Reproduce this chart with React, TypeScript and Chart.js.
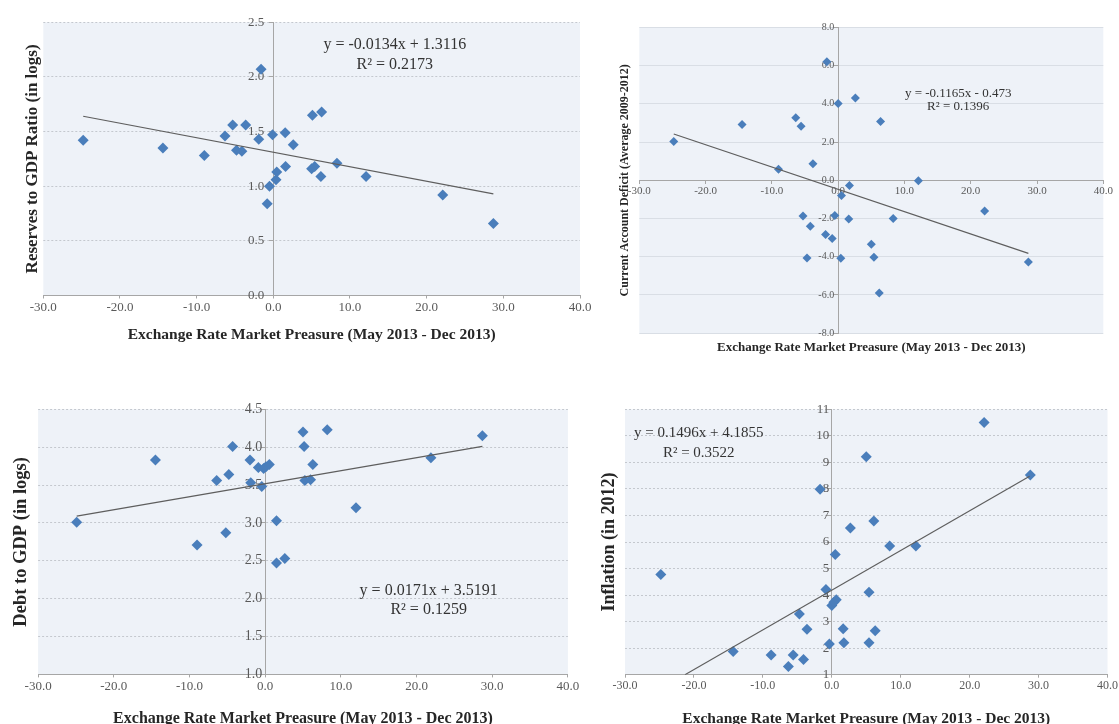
import React, { useEffect, useRef } from 'react';
import { Chart, registerables } from 'chart.js';

Chart.register(...registerables);

const FONT = "'Liberation Serif', 'Times New Roman', serif";

// ---------------- data ----------------
const xTitleText = 'Exchange Rate Market Preasure (May 2013 - Dec 2013)';
const xMin = -30;
const xMax = 40;
const xStep = 10;

// Panel 1: Reserves to GDP ratio
const reservesX = [-24.8, -14.4, -9.0, -6.3, -5.3, -4.8, -4.1, -3.6, -1.9, -1.6, -0.1, -0.8, -0.5, 0.35, 0.45, 1.55, 1.6, 2.6, 5.1, 6.3, 5.0, 5.4, 6.2, 8.3, 12.1, 22.1, 28.7];
const reservesY = [1.42, 1.35, 1.28, 1.46, 1.56, 1.33, 1.32, 1.56, 1.43, 2.07, 1.47, 0.84, 1.0, 1.06, 1.13, 1.49, 1.18, 1.38, 1.65, 1.68, 1.16, 1.18, 1.09, 1.21, 1.09, 0.92, 0.66];
const reservesTrendX = [-24.8, 28.7];
const reservesTrendY = [1.64, 0.93];
const reservesEq = ['y = -0.0134x + 1.3116', 'R\u00B2 = 0.2173'];

// Panel 2: Current account deficit
const caX = [-24.8, -14.5, -9.0, -6.4, -5.6, -3.8, -5.3, -4.2, -4.7, -1.9, -0.9, -0.5, -1.7, 0.0, 0.4, 0.5, 1.7, 1.6, 2.6, 6.4, 5.0, 5.4, 6.2, 8.3, 12.1, 22.1, 28.7];
const caY = [2.03, 2.92, 0.58, 3.27, 2.83, 0.87, -1.87, -2.4, -4.06, -2.84, -3.05, -1.84, 6.2, 4.02, -4.08, -0.8, -0.27, -2.03, 4.31, 3.08, -3.34, -4.02, -5.9, -2.0, -0.03, -1.61, -4.28];
const caTrendX = [-24.8, 28.7];
const caTrendY = [2.42, -3.82];
const caEq = ['y = -0.1165x - 0.473', 'R\u00B2 = 0.1396'];

// Panel 3: Debt to GDP
const debtX = [-24.9, -14.5, -9.0, -6.4, -5.2, -4.8, -4.3, -2.0, -1.9, -0.9, -0.45, -0.2, 0.1, 0.55, 1.5, 1.5, 2.6, 5.0, 5.15, 5.25, 6.0, 6.3, 8.2, 12.0, 21.9, 28.7];
const debtY = [3.01, 3.83, 2.71, 3.56, 2.87, 3.64, 4.01, 3.83, 3.53, 3.73, 3.48, 3.72, 3.74, 3.77, 3.03, 2.47, 2.53, 4.2, 4.01, 3.56, 3.57, 3.77, 4.23, 3.2, 3.86, 4.15];
const debtTrendX = [-24.9, 28.7];
const debtTrendY = [3.09, 4.01];
const debtEq = ['y = 0.0171x + 3.5191', 'R\u00B2 = 0.1259'];

// Panel 4: Inflation
const inflX = [-24.8, -14.3, -8.8, -6.3, -5.6, -4.1, -4.7, -3.6, -1.7, -0.85, -0.35, 0.0, 0.3, 0.65, 0.5, 1.65, 1.75, 2.7, 5.0, 5.4, 5.4, 6.1, 6.3, 8.4, 12.2, 22.1, 28.8];
const inflY = [4.78, 1.87, 1.74, 1.31, 1.74, 1.57, 3.29, 2.71, 7.99, 4.21, 2.16, 3.61, 3.73, 3.82, 5.53, 2.73, 2.2, 6.53, 9.21, 4.11, 2.2, 6.79, 2.66, 5.85, 5.85, 10.5, 8.52];
const inflTrendX = [-21.3, 28.7];
const inflTrendY = [1.0, 8.48];
const inflEq = ['y = 0.1496x + 4.1855', 'R\u00B2 = 0.3522'];

// ---------------- panel configs ----------------
type Pad = { top: number; bottom: number };
type PanelCfg = {
  left: number; top: number; width: number; height: number;
  padding: { left: number; right: number; top: number; bottom: number };
  xs: number[]; ys: number[]; trendX: number[]; trendY: number[];
  yMin: number; yMax: number; yStep: number; yDecimals: number; yLabelGap: string;
  xAtZero: boolean;
  yTitle: string; yTitleSize: number; yTitlePad: Pad;
  xTitleSize: number; xTitlePad: Pad;
  xTickSize: number; yTickSize: number;
  radius: number;
  gridColor: string; gridDash: number[];
  eq: string[]; eqX: number; eqY: number[]; eqSize: number;
};

const panels: PanelCfg[] = [
  {
    left: 0, top: 0, width: 600, height: 360,
    padding: { left: 21.3, right: 20, top: 22.3, bottom: 13.7 },
    xs: reservesX, ys: reservesY, trendX: reservesTrendX, trendY: reservesTrendY,
    yMin: 0, yMax: 2.5, yStep: 0.5, yDecimals: 1, yLabelGap: '\u2002\u2009', xAtZero: false,
    yTitle: 'Reserves to GDP Ratio (in logs)', yTitleSize: 17, yTitlePad: { top: 1.6, bottom: 0 },
    xTitleSize: 15.5, xTitlePad: { top: 9.6, bottom: 2 },
    xTickSize: 13, yTickSize: 13, radius: 5.5,
    gridColor: '#c4c8ce', gridDash: [2, 2],
    eq: reservesEq, eqX: 15.85, eqY: [2.295, 2.11], eqSize: 16,
  },
  {
    left: 580, top: 0, width: 539, height: 370,
    padding: { left: 34.4, right: 15.7, top: 27.4, bottom: 12.2 },
    xs: caX, ys: caY, trendX: caTrendX, trendY: caTrendY,
    yMin: -8, yMax: 8, yStep: 2, yDecimals: 1, yLabelGap: '\u2009\u2009', xAtZero: true,
    yTitle: 'Current Account Deficit (Average 2009-2012)', yTitleSize: 12, yTitlePad: { top: 3.4, bottom: 7.1 },
    xTitleSize: 13, xTitlePad: { top: 7, bottom: 2 },
    xTickSize: 11, yTickSize: 10, radius: 4.5,
    gridColor: '#d9dee5', gridDash: [],
    eq: caEq, eqX: 18.1, eqY: [4.52, 3.84], eqSize: 13,
  },
  {
    left: 0, top: 368, width: 600, height: 360,
    padding: { left: 8.2, right: 32.1, top: 41.3, bottom: 0 },
    xs: debtX, ys: debtY, trendX: debtTrendX, trendY: debtTrendY,
    yMin: 1, yMax: 4.5, yStep: 0.5, yDecimals: 1, yLabelGap: '\u2009', xAtZero: false,
    yTitle: 'Debt to GDP (in logs)', yTitleSize: 18.5, yTitlePad: { top: 1.7, bottom: 6.0 },
    xTitleSize: 16, xTitlePad: { top: 13.8, bottom: 0 },
    xTickSize: 13, yTickSize: 14, radius: 5.5,
    gridColor: '#c4c8ce', gridDash: [2, 2],
    eq: debtEq, eqX: 21.6, eqY: [2.11, 1.85], eqSize: 16,
  },
  {
    left: 580, top: 368, width: 539, height: 360,
    padding: { left: 17.4, right: 10.8, top: 41.3, bottom: 0 },
    xs: inflX, ys: inflY, trendX: inflTrendX, trendY: inflTrendY,
    yMin: 1, yMax: 11, yStep: 1, yDecimals: 0, yLabelGap: '\u2009', xAtZero: false,
    yTitle: 'Inflation (in 2012)', yTitleSize: 18, yTitlePad: { top: 0.8, bottom: 5.2 },
    xTitleSize: 15.5, xTitlePad: { top: 15.3, bottom: 0 },
    xTickSize: 12, yTickSize: 13, radius: 5.5,
    gridColor: '#c4c8ce', gridDash: [2, 2],
    eq: inflEq, eqX: -19.3, eqY: [10.1, 9.35], eqSize: 15,
  },
];

// ---------------- plugins ----------------
const bgPlugin = {
  id: 'plotBg',
  beforeDraw(chart: any) {
    const { ctx, chartArea: a } = chart;
    ctx.save();
    ctx.fillStyle = '#eef2f8';
    ctx.fillRect(a.left, a.top, a.right - a.left, a.bottom - a.top);
    ctx.restore();
  },
};

const makeEqPlugin = (c: PanelCfg) => ({
  id: 'eqText',
  afterDatasetsDraw(chart: any) {
    const { ctx } = chart;
    const xs = chart.scales.x;
    const ys = chart.scales.y;
    ctx.save();
    ctx.fillStyle = '#333333';
    ctx.font = `${c.eqSize}px ${FONT}`;
    ctx.textAlign = 'center';
    ctx.textBaseline = 'middle';
    c.eq.forEach((t, i) => {
      ctx.fillText(t, xs.getPixelForValue(c.eqX), ys.getPixelForValue(c.eqY[i]));
    });
    ctx.restore();
  },
});

const AXIS = '#a6a6a6';
const TICK = '#595959';
const TITLE = '#262626';
const MARKER = '#4a7ebb';

function buildConfig(c: PanelCfg): any {
  const points = c.xs.map((x, i) => ({ x, y: c.ys[i] }));
  const trend = c.trendX.map((x, i) => ({ x, y: c.trendY[i] }));
  const fmtY = (v: any) => Number(v).toFixed(c.yDecimals) + c.yLabelGap;
  const scales: any = {
    x: {
      type: 'linear', axis: 'x', min: xMin, max: xMax,
      position: c.xAtZero ? { y: 0 } : 'bottom',
      ticks: {
        stepSize: xStep, autoSkip: false, maxRotation: 0, padding: 1,
        font: { family: FONT, size: c.xTickSize }, color: TICK,
        callback: (v: any) => Number(v).toFixed(1),
      },
      grid: { display: true, drawOnChartArea: false, drawTicks: true, tickLength: 3, color: AXIS, tickColor: AXIS },
      border: { display: true, color: AXIS, width: 1 },
      title: c.xAtZero
        ? { display: false }
        : { display: true, text: xTitleText, color: TITLE, font: { family: FONT, size: c.xTitleSize, weight: 'bold' }, padding: c.xTitlePad },
    },
    y: {
      type: 'linear', axis: 'y', min: c.yMin, max: c.yMax,
      position: { x: 0 },
      ticks: {
        stepSize: c.yStep, autoSkip: false, padding: 2,
        font: { family: FONT, size: c.yTickSize }, color: TICK,
        callback: fmtY,
      },
      grid: { display: true, drawOnChartArea: true, drawTicks: true, tickLength: 4, color: c.gridColor, tickColor: AXIS, lineWidth: 1 },
      border: { display: true, color: AXIS, width: 1, dash: c.gridDash },
    },
    yTitle: {
      type: 'linear', axis: 'y', position: 'left', min: c.yMin, max: c.yMax,
      ticks: { display: false },
      grid: { display: false, drawTicks: false, drawOnChartArea: false },
      border: { display: false },
      title: { display: true, text: c.yTitle, color: TITLE, font: { family: FONT, size: c.yTitleSize, weight: 'bold' }, padding: c.yTitlePad },
    },
  };
  if (c.xAtZero) {
    scales.xTitle = {
      type: 'linear', axis: 'x', position: 'bottom', min: xMin, max: xMax,
      ticks: { display: false },
      grid: { display: false, drawTicks: false, drawOnChartArea: false },
      border: { display: false },
      title: { display: true, text: xTitleText, color: TITLE, font: { family: FONT, size: c.xTitleSize, weight: 'bold' }, padding: c.xTitlePad },
    };
  }
  return {
    type: 'scatter',
    data: {
      datasets: [
        {
          type: 'line', data: trend, xAxisID: 'x', yAxisID: 'y',
          borderColor: '#5e5e5e', borderWidth: 1.2, pointRadius: 0, showLine: true, fill: false, order: 0,
        },
        {
          type: 'scatter', data: points, xAxisID: 'x', yAxisID: 'y',
          pointStyle: 'rectRot', pointRadius: c.radius, backgroundColor: MARKER, borderColor: MARKER, borderWidth: 0, order: 1,
        },
      ],
    },
    options: {
      responsive: false,
      maintainAspectRatio: false,
      animation: false,
      events: [],
      layout: { padding: c.padding },
      plugins: { legend: { display: false }, tooltip: { enabled: false }, title: { display: false } },
      scales,
    },
    plugins: [bgPlugin, makeEqPlugin(c)],
  };
}

function Panel({ cfg }: { cfg: PanelCfg }) {
  const ref = useRef<HTMLCanvasElement | null>(null);
  useEffect(() => {
    if (!ref.current) return;
    const chart = new Chart(ref.current, buildConfig(cfg));
    return () => chart.destroy();
  }, [cfg]);
  return (
    <canvas
      ref={ref}
      width={cfg.width}
      height={cfg.height}
      style={{ position: 'absolute', left: cfg.left, top: cfg.top, width: cfg.width, height: cfg.height }}
    />
  );
}

export default function App() {
  return (
    <div style={{ position: 'fixed', left: 0, top: 0, width: 1119, height: 724, overflow: 'hidden', background: '#ffffff' }}>
      {panels.map((p, i) => (
        <Panel key={i} cfg={p} />
      ))}
    </div>
  );
}
